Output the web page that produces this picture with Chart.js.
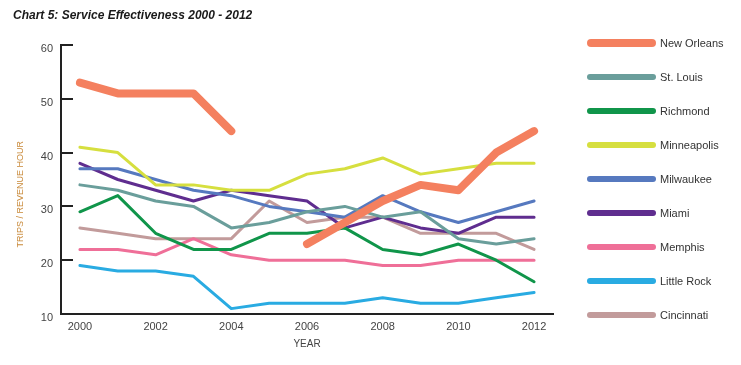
<!DOCTYPE html>
<html>
<head>
<meta charset="utf-8">
<script src="https://cdn.jsdelivr.net/npm/chart.js@4.4.1/dist/chart.umd.min.js"></script>
<style>
  body { margin: 0; background: #fff; font-family: "Liberation Sans", Arial, sans-serif; }
  #wrap { position: relative; width: 741px; height: 365px; }
  #title { position: absolute; left: 13px; top: 8px; font-size: 12px; font-weight: bold; font-style: italic; color: #1a1a1a; }
  #legend { position: absolute; left: 587px; top: 26px; }
  .row { height: 34px; display: flex; align-items: center; font-size: 11px; color: #333; }
  .swatch { width: 69px; height: 6px; border-radius: 3px; margin-right: 4px; }
</style>
</head>
<body>
<div id="wrap">
  <canvas id="chart" width="741" height="365"></canvas>
  <div id="title">Chart 5: Service Effectiveness 2000 - 2012</div>
  <div id="legend"></div>
</div>
<script>
const years = ["2000", "2001", "2002", "2003", "2004", "2005", "2006", "2007", "2008", "2009", "2010", "2011", "2012"];

const newOrleans  = [53, 51, 51, 51, 44, null, 23, 27, 31, 34, 33, 40, 44];
const stLouis     = [34, 33, 31, 30, 26, 27, 29, 30, 28, 29, 24, 23, 24];
const richmond    = [29, 32, 25, 22, 22, 25, 25, 26, 22, 21, 23, 20, 16];
const minneapolis = [41, 40, 34, 34, 33, 33, 36, 37, 39, 36, 37, 38, 38];
const milwaukee   = [37, 37, 35, 33, 32, 30, 29, 28, 32, 29, 27, 29, 31];
const miami       = [38, 35, 33, 31, 33, 32, 31, 26, 28, 26, 25, 28, 28];
const memphis     = [22, 22, 21, 24, 21, 20, 20, 20, 19, 19, 20, 20, 20];
const littleRock  = [19, 18, 18, 17, 11, 12, 12, 12, 13, 12, 12, 13, 14];
const cincinnati  = [26, 25, 24, 24, 24, 31, 27, 28, 28, 25, 25, 25, 22];

const yTicks = [10, 20, 30, 40, 50, 60];

const series = [
  { name: "New Orleans", data: newOrleans,  color: "#f4805f", width: 8 },
  { name: "St. Louis",   data: stLouis,     color: "#6a9e9b", width: 3 },
  { name: "Richmond",    data: richmond,    color: "#10954a", width: 3 },
  { name: "Minneapolis", data: minneapolis, color: "#d6df3f", width: 3 },
  { name: "Milwaukee",   data: milwaukee,   color: "#5679bf", width: 3 },
  { name: "Miami",       data: miami,       color: "#5f2d8f", width: 3 },
  { name: "Memphis",     data: memphis,     color: "#ef6f98", width: 3 },
  { name: "Little Rock", data: littleRock,  color: "#29abe2", width: 3 },
  { name: "Cincinnati",  data: cincinnati,  color: "#c29b9b", width: 3 },
];

// legend on the right
const legend = document.getElementById("legend");
series.forEach((s, i) => {
  const row = document.createElement("div");
  row.className = "row";
  row.innerHTML = `<span class="swatch" style="background:${s.color};height:${i === 0 ? 8 : 6}px;border-radius:4px"></span>${s.name}`;
  legend.appendChild(row);
});

const datasets = series.map((s) => ({
  label: s.name,
  data: s.data,
  borderColor: s.color,
  backgroundColor: s.color,
  borderWidth: s.width,
  borderCapStyle: "round",
  borderJoinStyle: "round",
  pointRadius: 0,
  pointHoverRadius: 0,
  tension: 0,
  fill: false,
}));

new Chart(document.getElementById("chart"), {
  type: "line",
  data: { labels: years, datasets },
  options: {
    responsive: false,
    animation: false,
    layout: { padding: { left: 0, right: 188, top: 45, bottom: 0 } },
    plugins: { legend: { display: false }, tooltip: { enabled: false } },
    scales: {
      x: {
        offset: true,
        grid: { drawOnChartArea: false, drawTicks: false },
        border: { color: "#222", width: 2 },
        ticks: {
          autoSkip: false,
          maxRotation: 0,
          padding: 6,
          color: "#444",
          font: { size: 11 },
          callback: (v, i) => (i % 2 === 0 ? years[i] : ""),
        },
        title: { display: true, text: "YEAR", color: "#444", font: { size: 10 }, padding: { top: 0, bottom: 15 } },
        afterFit: (s) => { s.height = 51; },
      },
      y: {
        min: 10,
        max: 60,
        afterBuildTicks: (s) => { s.ticks = yTicks.map((v) => ({ value: v })); },
        ticks: { color: "#444", font: { size: 11 }, padding: 20, labelOffset: 4 },
        grid: { drawOnChartArea: false, tickLength: -12, color: "#222", lineWidth: 2 },
        border: { color: "#222", width: 2 },
        title: {
          display: true,
          text: "TRIPS / REVENUE HOUR\u2003\u2003\u2003 ",
          color: "#c98a3a",
          font: { size: 9 },
          padding: { top: 15, bottom: 0 },
        },
        afterFit: (s) => { s.width = 61; },
      },
    },
  },
});
</script>
</body>
</html>
